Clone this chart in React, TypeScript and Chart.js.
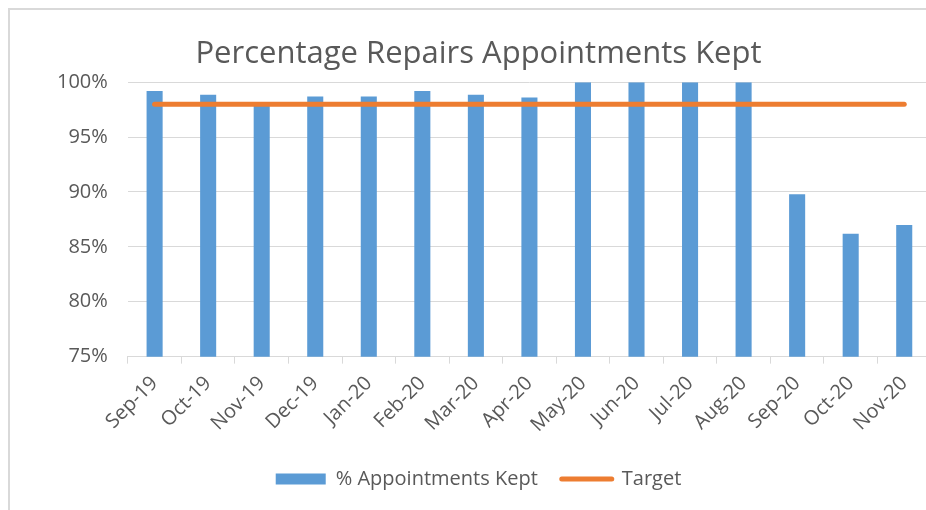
import React, { useEffect, useRef } from "react";
import { Chart, registerables } from "chart.js";

Chart.register(...registerables);

const categories = [
  "Sep-19", "Oct-19", "Nov-19", "Dec-19", "Jan-20", "Feb-20", "Mar-20", "Apr-20",
  "May-20", "Jun-20", "Jul-20", "Aug-20", "Sep-20", "Oct-20", "Nov-20",
];
const appointmentsKept = [
  99.2, 98.85, 97.9, 98.7, 98.7, 99.2, 98.85, 98.6,
  100, 100, 100, 100, 89.8, 86.2, 87.0,
];
const target = [98, 98, 98, 98, 98, 98, 98, 98, 98, 98, 98, 98, 98, 98, 98];
const yTicks = [75, 80, 85, 90, 95, 100];

const FONT = "'Open Sans', 'DejaVu Sans', sans-serif";
const TEXT = "#595959";
const GRID = "#d9d9d9";
const BLUE = "#5B9BD5";
const ORANGE = "#ED7D31";

export default function App() {
  const ref = useRef<HTMLCanvasElement | null>(null);

  useEffect(() => {
    if (!ref.current) return;
    const chart = new Chart(ref.current, {
      data: {
        labels: categories,
        datasets: [
          {
            type: "line",
            label: "Target",
            data: target,
            borderColor: ORANGE,
            backgroundColor: ORANGE,
            borderWidth: 5,
            borderCapStyle: "round",
            pointRadius: 0,
            pointHoverRadius: 0,
            fill: false,
            order: 0,
          } as any,
          {
            type: "bar",
            label: "% Appointments Kept",
            data: appointmentsKept,
            backgroundColor: BLUE,
            borderWidth: 0,
            barPercentage: 1,
            categoryPercentage: 0.3,
            order: 1,
          } as any,
        ],
      },
      options: {
        animation: false,
        responsive: false,
        maintainAspectRatio: false,
        layout: { padding: { left: 16, right: 9, top: 0, bottom: 11 } },
        plugins: {
          title: {
            display: true,
            text: "Percentage Repairs Appointments Kept",
            color: TEXT,
            font: { family: FONT, size: 31, weight: "normal" },
            padding: { top: 26, bottom: 9 },
          },
          legend: {
            position: "bottom",
            labels: {
              usePointStyle: true,
              pointStyleWidth: 50,
              boxHeight: 11,
              color: TEXT,
              font: { family: FONT, size: 20 },
              padding: 24,
              generateLabels: () => [
                {
                  text: "% Appointments Kept",
                  fillStyle: BLUE,
                  strokeStyle: BLUE,
                  lineWidth: 0,
                  pointStyle: "rect",
                  datasetIndex: 1,
                  hidden: false,
                  fontColor: TEXT,
                } as any,
                {
                  text: "Target",
                  fillStyle: ORANGE,
                  strokeStyle: ORANGE,
                  lineWidth: 5,
                  lineCap: "round",
                  pointStyle: "line",
                  datasetIndex: 0,
                  hidden: false,
                  fontColor: TEXT,
                } as any,
              ],
            },
          },
          tooltip: { enabled: false },
        },
        scales: {
          x: {
            offset: true,
            grid: {
              offset: true,
              drawOnChartArea: false,
              tickLength: 7,
              color: GRID,
              lineWidth: 1,
            },
            border: { color: GRID, width: 1 },
            ticks: {
              minRotation: 45,
              maxRotation: 45,
              color: TEXT,
              font: { family: FONT, size: 20 },
              padding: 8,
            },
          },
          y: {
            min: yTicks[0],
            max: yTicks[yTicks.length - 1],
            afterBuildTicks: (scale: any) => {
              scale.ticks = yTicks.map((v) => ({ value: v }));
            },
            afterFit: (scale: any) => {
              scale.width += 11;
            },
            grid: { color: GRID, lineWidth: 1, drawTicks: false, tickLength: 0 },
            border: { display: false },
            ticks: {
              color: TEXT,
              font: { family: FONT, size: 20 },
              padding: 20,
              callback: (v: any) => `${v}%`,
            },
          },
        },
      },
    });
    return () => chart.destroy();
  }, []);

  return (
    <div
      style={{
        position: "fixed",
        left: 0,
        top: 0,
        width: 926,
        height: 510,
        overflow: "hidden",
        background: "#fff",
      }}
    >
      <div
        style={{
          position: "absolute",
          left: 8,
          top: 8,
          width: 930,
          height: 520,
          borderLeft: `2px solid ${GRID}`,
          borderTop: `2px solid ${GRID}`,
          background: "#fff",
        }}
      >
        <canvas ref={ref} width={930} height={500} style={{ display: "block" }} />
      </div>
    </div>
  );
}
